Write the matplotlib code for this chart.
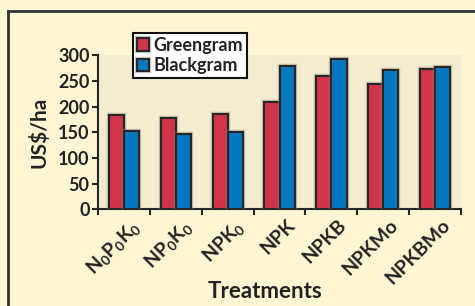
import matplotlib
matplotlib.use("Agg")
import matplotlib.pyplot as plt
import matplotlib.patheffects as pe
import numpy as np
from matplotlib.lines import Line2D

categories = [r"N$_0$P$_0$K$_0$", r"NP$_0$K$_0$", r"NPK$_0$", "NPK", "NPKB", "NPKMo", "NPKBMo"]
greengram = [184, 178, 185, 209, 260, 245, 273]
blackgram = [152, 147, 151, 280, 293, 271, 278]
yticks = [0, 50, 100, 150, 200, 250, 300]

plt.rcParams['font.family'] = ['Lato', 'DejaVu Sans']
plt.rcParams['mathtext.fontset'] = 'custom'
plt.rcParams['mathtext.rm'] = 'Lato:bold'
plt.rcParams['mathtext.it'] = 'Lato:bold'
plt.rcParams['mathtext.bf'] = 'Lato:bold'

fig = plt.figure(figsize=(4.75, 3.06), dpi=100)
fig.patch.set_facecolor('#FFF6D3')
ax = fig.add_axes([0.206, 0.316, 0.765, 0.503])
ax.set_facecolor('#F4EDD1')

x = np.arange(len(categories))
w = 0.29
halo = [pe.Stroke(linewidth=3.2, foreground='#8f8a78', alpha=0.45), pe.Normal()]
b1 = ax.bar(x - w/2, greengram, w, color='#D0344A', edgecolor='#262626', linewidth=1.5, label='Greengram', zorder=3)
b2 = ax.bar(x + w/2, blackgram, w, color='#0077BF', edgecolor='#262626', linewidth=1.5, label='Blackgram', zorder=3)
for p in list(b1) + list(b2):
    p.set_path_effects(halo)

ax.set_xlim(-0.5, len(categories) - 0.5)
ax.set_ylim(0, 300)
ax.set_yticks(yticks)
ax.set_yticklabels([str(v) for v in yticks], fontsize=13, fontweight='bold', color='#222222')
ax.set_xticks(np.arange(-0.5, len(categories)), minor=False)
ax.set_xticklabels([])
ax.set_xticks(x + 0.12, minor=True)
ax.set_xticklabels(categories, minor=True, rotation=45, ha='right', va='top',
                   rotation_mode='anchor', fontsize=14, fontweight='bold', color='#222222')
ax.tick_params(axis='x', which='minor', length=0, pad=5)
ax.tick_params(axis='x', which='major', length=4, width=1.5, color='#262626', direction='out')
ax.tick_params(axis='y', length=4, width=1.5, color='#262626', direction='out', pad=2)
for s in ['top', 'right']:
    ax.spines[s].set_visible(False)
for s in ['left', 'bottom']:
    ax.spines[s].set_linewidth(1.5)
    ax.spines[s].set_color('#262626')

ax.set_ylabel('US$/ha', fontsize=15, fontweight='bold', color='#222222', labelpad=6)
fig.text(265/475, 1 - 292/306, 'Treatments', fontsize=16, fontweight='bold', color='#222222', ha='center', va='center')

leg = ax.legend(loc='upper left', bbox_to_anchor=(133/475, 1 - 33/306), bbox_transform=fig.transFigure,
                frameon=True, fancybox=False, fontsize=13, handlelength=0.7, handleheight=0.7,
                handletextpad=0.25, borderpad=0.2, labelspacing=0.2, borderaxespad=0)
leg.get_frame().set_edgecolor('#111111')
leg.get_frame().set_linewidth(1.5)
leg.get_frame().set_facecolor('white')
leg.get_frame().set_alpha(1)
for t in leg.get_texts():
    t.set_fontweight('bold')
    t.set_color('#222222')

# figure frame
fig.add_artist(Line2D([8/475, 8/475], [0, 1 - 11/306], transform=fig.transFigure, color='#333333', linewidth=2))
fig.add_artist(Line2D([8/475, 1], [1 - 11/306, 1 - 11/306], transform=fig.transFigure, color='#333333', linewidth=2))

fig.savefig('out.png', dpi=100, facecolor=fig.get_facecolor())
